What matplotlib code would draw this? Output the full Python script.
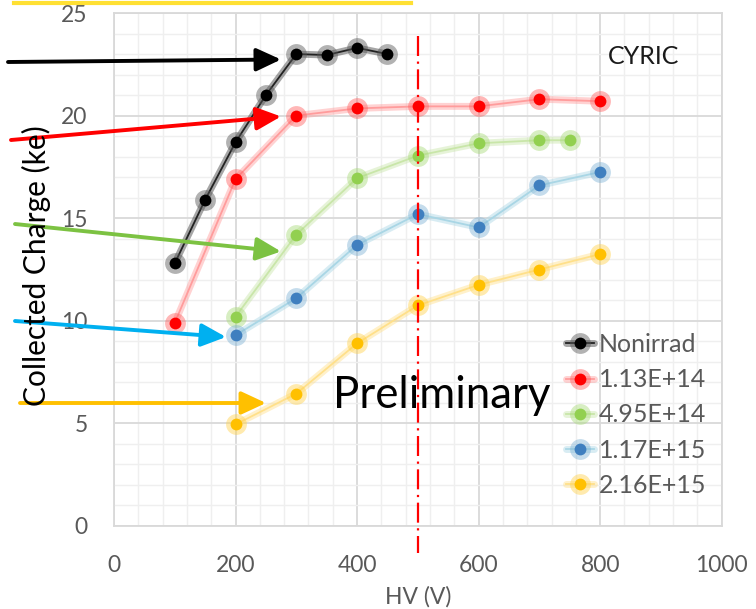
import matplotlib
matplotlib.use('Agg')
import matplotlib.pyplot as plt
from matplotlib.lines import Line2D
from matplotlib.ticker import MultipleLocator

plt.rcParams['font.family'] = ['Lato', 'DejaVu Sans']

# values
hv_nonirrad = [100, 150, 200, 250, 300, 350, 400, 450]
q_nonirrad = [12.8, 15.9, 18.7, 21.0, 23.0, 22.95, 23.3, 23.0]

hv_113e14 = [100, 200, 300, 400, 500, 600, 700, 800]
q_113e14 = [9.9, 16.9, 20.0, 20.35, 20.45, 20.45, 20.8, 20.7]

hv_495e14 = [200, 300, 400, 500, 600, 700, 750]
q_495e14 = [10.2, 14.2, 16.95, 18.05, 18.65, 18.8, 18.8]

hv_117e15 = [200, 300, 400, 500, 600, 700, 800]
q_117e15 = [9.3, 11.1, 13.7, 15.2, 14.55, 16.6, 17.25]

hv_216e15 = [200, 300, 400, 500, 600, 700, 800]
q_216e15 = [4.95, 6.45, 8.9, 10.75, 11.75, 12.5, 13.25]

labels = ['Nonirrad', '1.13E+14', '4.95E+14', '1.17E+15', '2.16E+15']
marker_cols = ['#000000', '#FF0000', '#92D050', '#3F7FBF', '#FFC000']
line_cols = ['#3A3A3A', '#FF9C9C', '#C9E6A9', '#A9D6E5', '#FFE08A']
halo_cols = ['#555555', '#FF6060', '#A8DA78', '#7FB3D5', '#FFD24D']

series = [(hv_nonirrad, q_nonirrad), (hv_113e14, q_113e14), (hv_495e14, q_495e14),
          (hv_117e15, q_117e15), (hv_216e15, q_216e15)]

depletion_hv = 500
grey = '#595959'

fig = plt.figure(figsize=(7.56, 6.09), dpi=100)
ax = fig.add_axes([114 / 756, 83 / 609, 607.7 / 756, 513 / 609])

handles = []
for (x, y), lab, mc, lc, hc in zip(series, labels, marker_cols, line_cols, halo_cols):
    glow, = ax.plot(x, y, color=lc, lw=5, alpha=0.45, solid_capstyle='round', zorder=3)
    thin, = ax.plot(x, y, color=lc if mc != '#000000' else '#222222', lw=1.3, zorder=4)
    halo, = ax.plot(x, y, ls='none', marker='o', ms=15, mfc=hc, mec='none', alpha=0.45, zorder=5)
    dot, = ax.plot(x, y, ls='none', marker='o', ms=8.5, mfc=mc, mec='none', zorder=6)
    handles.append((glow, thin, halo, dot))

ax.set_xlim(0, 1000)
ax.set_ylim(0, 25)
ax.xaxis.set_major_locator(MultipleLocator(200))
ax.xaxis.set_minor_locator(MultipleLocator(40))
ax.yaxis.set_major_locator(MultipleLocator(5))
ax.yaxis.set_minor_locator(MultipleLocator(1))
ax.grid(which='major', color='#D9D9D9', lw=1.3, zorder=0)
ax.grid(which='minor', color='#EFEFEF', lw=1.0, zorder=0)
ax.set_axisbelow(True)
for s in ax.spines.values():
    s.set_color('#D9D9D9')
    s.set_linewidth(1.3)
ax.tick_params(which='both', length=0)
ax.tick_params(axis='y', pad=19, labelsize=16.5, labelcolor=grey)
ax.tick_params(axis='x', pad=21, labelsize=16.5, labelcolor=grey)

# vertical dash-dot line at 500 V, running below the axis
ax.plot([depletion_hv, depletion_hv], [23.9, -1.3], color='#FF0000', lw=1.6,
        ls=(0, (9, 2.5, 1, 2.5)), clip_on=False, zorder=7)

ax.text(360, 5.75, 'Preliminary', fontsize=31.5, color='black', va='baseline', zorder=8)
ax.text(813, 22.5, 'CYRIC', fontsize=18, color='#1A1A1A', va='baseline')

fig.text(36 / 756, 1 - 266 / 609, 'Collected Charge (ke)', rotation=90,
         ha='center', va='center', fontsize=21.5, color='black')
fig.text(418 / 756, 1 - 597 / 609, 'HV (V)', ha='center', va='center',
         fontsize=16.5, color=grey)

leg = ax.legend(handles, labels, loc='upper left', bbox_to_anchor=(566 / 756, 1 - 333 / 609),
                bbox_transform=fig.transFigure, frameon=False, fontsize=18,
                handlelength=1.1, handletextpad=0.2, labelspacing=0.49,
                borderpad=0, borderaxespad=0)
for t in leg.get_texts():
    t.set_color(grey)

# annotation arrows coming from the left margin (figure pixels)
arrows = [((8, 62), (281, 59.5), '#000000'),
          ((11, 140), (281, 116.5), '#FF0000'),
          ((15, 224), (281, 251.5), '#7CC242'),
          ((15, 321), (226, 337), '#00B0F0'),
          ((20, 403), (266, 403), '#FFC000')]
for (x0, y0), (x1, y1), c in arrows:
    ax.annotate('', xy=(x1, 609 - y1), xytext=(x0, 609 - y0), xycoords='figure pixels',
                textcoords='figure pixels', annotation_clip=False, zorder=9,
                arrowprops=dict(arrowstyle='-|>,head_length=0.43,head_width=0.2',
                                mutation_scale=35, lw=2.8, color=c, shrinkA=0, shrinkB=0))

fig.add_artist(Line2D([14 / 756, 411 / 756], [1 - 3 / 609, 1 - 3 / 609], color='#FFE033', lw=3))

fig.savefig('out.png', dpi=100)
